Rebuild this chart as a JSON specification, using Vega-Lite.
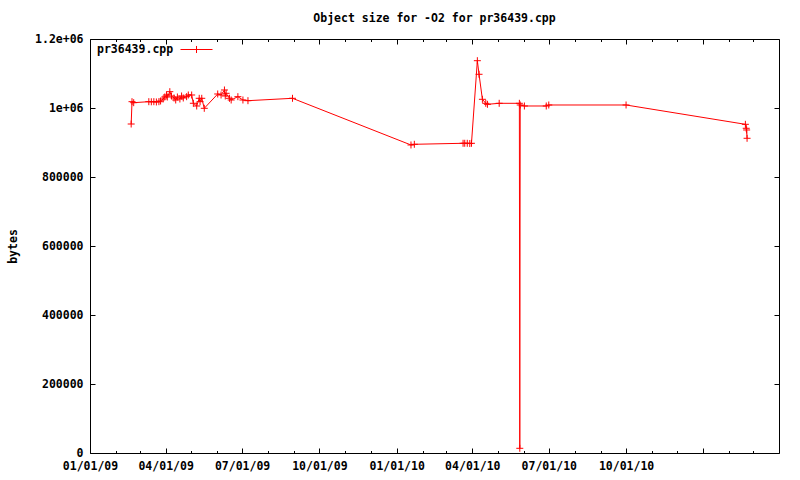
{
  "$schema": "https://vega.github.io/schema/vega-lite/v6.json",
  "width": 689,
  "height": 414,
  "autosize": {"type": "none"},
  "padding": {"left": 90, "top": 39, "right": 21, "bottom": 27},
  "background": "white",
  "title": {
    "text": "Object size for -O2 for pr36439.cpp",
    "font": "DejaVu Sans Mono",
    "fontSize": 11.5,
    "fontWeight": "bold",
    "color": "black",
    "anchor": "middle",
    "offset": 9
  },
  "data": {
    "values": [
      {"date": "2009-02-19T00:00", "bytes": 953600},
      {"date": "2009-02-20T00:00", "bytes": 1018300},
      {"date": "2009-02-22T00:00", "bytes": 1015400},
      {"date": "2009-03-12T00:00", "bytes": 1018300},
      {"date": "2009-03-15T00:00", "bytes": 1018000},
      {"date": "2009-03-18T00:00", "bytes": 1018300},
      {"date": "2009-03-21T00:00", "bytes": 1017500},
      {"date": "2009-03-24T00:00", "bytes": 1018300},
      {"date": "2009-03-26T00:00", "bytes": 1020300},
      {"date": "2009-03-29T00:00", "bytes": 1026100},
      {"date": "2009-03-31T00:00", "bytes": 1031900},
      {"date": "2009-04-02T00:00", "bytes": 1037700},
      {"date": "2009-04-03T00:00", "bytes": 1031900},
      {"date": "2009-04-06T00:00", "bytes": 1047300},
      {"date": "2009-04-08T00:00", "bytes": 1034800},
      {"date": "2009-04-11T00:00", "bytes": 1029000},
      {"date": "2009-04-13T00:00", "bytes": 1023200},
      {"date": "2009-04-15T00:00", "bytes": 1031900},
      {"date": "2009-04-18T00:00", "bytes": 1026100},
      {"date": "2009-04-20T00:00", "bytes": 1034800},
      {"date": "2009-04-22T00:00", "bytes": 1029000},
      {"date": "2009-04-26T00:00", "bytes": 1032800},
      {"date": "2009-04-28T00:00", "bytes": 1037700},
      {"date": "2009-05-02T00:00", "bytes": 1037700},
      {"date": "2009-05-04T00:00", "bytes": 1013700},
      {"date": "2009-05-08T00:00", "bytes": 1005800},
      {"date": "2009-05-11T00:00", "bytes": 1028100},
      {"date": "2009-05-12T00:00", "bytes": 1018300},
      {"date": "2009-05-14T00:00", "bytes": 1028100},
      {"date": "2009-05-17T00:00", "bytes": 999100},
      {"date": "2009-06-02T00:00", "bytes": 1040600},
      {"date": "2009-06-06T00:00", "bytes": 1037700},
      {"date": "2009-06-10T00:00", "bytes": 1052200},
      {"date": "2009-06-11T00:00", "bytes": 1034800},
      {"date": "2009-06-12T00:00", "bytes": 1042600},
      {"date": "2009-06-16T00:00", "bytes": 1028100},
      {"date": "2009-06-18T00:00", "bytes": 1023200},
      {"date": "2009-06-26T00:00", "bytes": 1032800},
      {"date": "2009-07-02T00:00", "bytes": 1023200},
      {"date": "2009-07-08T00:00", "bytes": 1021200},
      {"date": "2009-08-30T00:00", "bytes": 1028100},
      {"date": "2010-01-18T00:00", "bytes": 892800},
      {"date": "2010-01-22T00:00", "bytes": 894800},
      {"date": "2010-03-21T00:00", "bytes": 897700},
      {"date": "2010-03-23T00:00", "bytes": 897700},
      {"date": "2010-03-26T00:00", "bytes": 897700},
      {"date": "2010-03-29T00:00", "bytes": 897000},
      {"date": "2010-03-31T00:00", "bytes": 897700},
      {"date": "2010-04-07T00:00", "bytes": 1137100},
      {"date": "2010-04-09T00:00", "bytes": 1097700},
      {"date": "2010-04-13T00:00", "bytes": 1025200},
      {"date": "2010-04-17T00:00", "bytes": 1013600},
      {"date": "2010-04-19T00:00", "bytes": 1010700},
      {"date": "2010-05-03T00:00", "bytes": 1013600},
      {"date": "2010-05-27T00:00", "bytes": 1013600},
      {"date": "2010-05-27T12:00", "bytes": 13600},
      {"date": "2010-05-28T00:00", "bytes": 1008700},
      {"date": "2010-06-02T00:00", "bytes": 1005800},
      {"date": "2010-06-28T00:00", "bytes": 1005800},
      {"date": "2010-07-01T00:00", "bytes": 1008700},
      {"date": "2010-10-01T00:00", "bytes": 1008700},
      {"date": "2011-02-20T00:00", "bytes": 952700},
      {"date": "2011-02-21T00:00", "bytes": 941200},
      {"date": "2011-02-21T12:00", "bytes": 936300},
      {"date": "2011-02-22T00:00", "bytes": 912200}
    ]
  },
  "encoding": {
    "x": {
      "field": "date",
      "type": "temporal",
      "scale": {"domain": [{"year": 2009, "month": 1, "date": 1}, {"year": 2011, "month": 4, "date": 1}]}
    },
    "y": {
      "field": "bytes",
      "type": "quantitative",
      "scale": {"domain": [0, 1200000], "nice": false, "zero": true}
    }
  },
  "layer": [
    {
      "mark": {"type": "line", "strokeWidth": 1, "interpolate": "linear"},
      "encoding": {
        "color": {
          "datum": "pr36439.cpp",
          "type": "nominal",
          "scale": {"range": ["#ff0000"]},
          "legend": {
            "title": null,
            "orient": "none",
            "legendX": 6,
            "legendY": -6,
            "padding": 0,
            "symbolType": "M-1,0H1M0,-0.22V0.22",
            "symbolSize": 1024,
            "symbolStrokeWidth": 1,
            "symbolFillColor": "transparent",
            "symbolStrokeColor": "#ff0000",
            "symbolOffset": 84,
            "labelOffset": -116,
            "labelFont": "DejaVu Sans Mono",
            "labelFontSize": 11.5,
            "labelFontWeight": "bold",
            "labelColor": "black"
          }
        },
        "x": {
          "field": "date",
          "type": "temporal",
          "axis": {
            "orient": "bottom",
            "title": null,
            "values": [
              {"year": 2009, "month": 1, "date": 1},
              {"year": 2009, "month": 4, "date": 1},
              {"year": 2009, "month": 7, "date": 1},
              {"year": 2009, "month": 10, "date": 1},
              {"year": 2010, "month": 1, "date": 1},
              {"year": 2010, "month": 4, "date": 1},
              {"year": 2010, "month": 7, "date": 1},
              {"year": 2010, "month": 10, "date": 1},
              {"year": 2011, "month": 1, "date": 1}
            ],
            "labelExpr": "year(datum.value) == 2011 ? '' : timeFormat(datum.value, '%m/%d/%y')",
            "tickSize": -5,
            "labelPadding": 12,
            "labelFlush": false,
            "labelOverlap": false
          }
        },
        "y": {
          "field": "bytes",
          "type": "quantitative",
          "axis": {
            "orient": "left",
            "title": "bytes",
            "values": [0, 200000, 400000, 600000, 800000, 1000000, 1200000],
            "labelExpr": "datum.value == 1000000 ? '1e+06' : datum.value == 1200000 ? '1.2e+06' : '' + datum.value",
            "tickSize": -5,
            "labelPadding": 12,
            "titlePadding": 16,
            "labelFlush": false,
            "labelOverlap": false
          }
        }
      }
    },
    {
      "mark": {"type": "point", "shape": "M-1,0H1M0,-1V1", "filled": false, "size": 49, "strokeWidth": 1, "color": "#ff0000", "opacity": 1},
      "encoding": {
        "x": {
          "field": "date",
          "type": "temporal",
          "axis": {
            "orient": "top",
            "title": null,
            "labels": false,
            "values": [
              {"year": 2009, "month": 1, "date": 1},
              {"year": 2009, "month": 4, "date": 1},
              {"year": 2009, "month": 7, "date": 1},
              {"year": 2009, "month": 10, "date": 1},
              {"year": 2010, "month": 1, "date": 1},
              {"year": 2010, "month": 4, "date": 1},
              {"year": 2010, "month": 7, "date": 1},
              {"year": 2010, "month": 10, "date": 1},
              {"year": 2011, "month": 1, "date": 1}
            ],
            "tickSize": -5
          }
        },
        "y": {
          "field": "bytes",
          "type": "quantitative",
          "axis": {
            "orient": "right",
            "title": null,
            "labels": false,
            "values": [0, 200000, 400000, 600000, 800000, 1000000, 1200000],
            "tickSize": -5
          }
        }
      }
    },
    {
      "mark": {"type": "point", "opacity": 0},
      "encoding": {
        "x": {
          "field": "date",
          "type": "temporal",
          "axis": {
            "orient": "bottom",
            "title": null,
            "labels": false,
            "values": [
              {"year": 2009, "month": 2, "date": 1},
              {"year": 2009, "month": 3, "date": 1},
              {"year": 2009, "month": 5, "date": 1},
              {"year": 2009, "month": 6, "date": 1},
              {"year": 2009, "month": 8, "date": 1},
              {"year": 2009, "month": 9, "date": 1},
              {"year": 2009, "month": 11, "date": 1},
              {"year": 2009, "month": 12, "date": 1},
              {"year": 2010, "month": 2, "date": 1},
              {"year": 2010, "month": 3, "date": 1},
              {"year": 2010, "month": 5, "date": 1},
              {"year": 2010, "month": 6, "date": 1},
              {"year": 2010, "month": 8, "date": 1},
              {"year": 2010, "month": 9, "date": 1},
              {"year": 2010, "month": 11, "date": 1},
              {"year": 2010, "month": 12, "date": 1},
              {"year": 2011, "month": 2, "date": 1},
              {"year": 2011, "month": 3, "date": 1}
            ],
            "tickSize": -2.5
          }
        },
        "y": {"field": "bytes", "type": "quantitative", "axis": null}
      }
    },
    {
      "mark": {"type": "point", "opacity": 0},
      "encoding": {
        "x": {
          "field": "date",
          "type": "temporal",
          "axis": {
            "orient": "top",
            "title": null,
            "labels": false,
            "values": [
              {"year": 2009, "month": 2, "date": 1},
              {"year": 2009, "month": 3, "date": 1},
              {"year": 2009, "month": 5, "date": 1},
              {"year": 2009, "month": 6, "date": 1},
              {"year": 2009, "month": 8, "date": 1},
              {"year": 2009, "month": 9, "date": 1},
              {"year": 2009, "month": 11, "date": 1},
              {"year": 2009, "month": 12, "date": 1},
              {"year": 2010, "month": 2, "date": 1},
              {"year": 2010, "month": 3, "date": 1},
              {"year": 2010, "month": 5, "date": 1},
              {"year": 2010, "month": 6, "date": 1},
              {"year": 2010, "month": 8, "date": 1},
              {"year": 2010, "month": 9, "date": 1},
              {"year": 2010, "month": 11, "date": 1},
              {"year": 2010, "month": 12, "date": 1},
              {"year": 2011, "month": 2, "date": 1},
              {"year": 2011, "month": 3, "date": 1}
            ],
            "tickSize": -2.5
          }
        },
        "y": {"field": "bytes", "type": "quantitative", "axis": null}
      }
    }
  ],
  "resolve": {"axis": {"x": "independent", "y": "independent"}},
  "config": {
    "font": "DejaVu Sans Mono",
    "view": {"stroke": "black", "strokeWidth": 1},
    "axis": {
      "domain": false,
      "grid": false,
      "tickColor": "black",
      "tickWidth": 1,
      "labelFont": "DejaVu Sans Mono",
      "labelFontSize": 11.5,
      "labelFontWeight": "bold",
      "labelColor": "black",
      "titleFont": "DejaVu Sans Mono",
      "titleFontSize": 11.5,
      "titleFontWeight": "bold",
      "titleColor": "black"
    }
  }
}
